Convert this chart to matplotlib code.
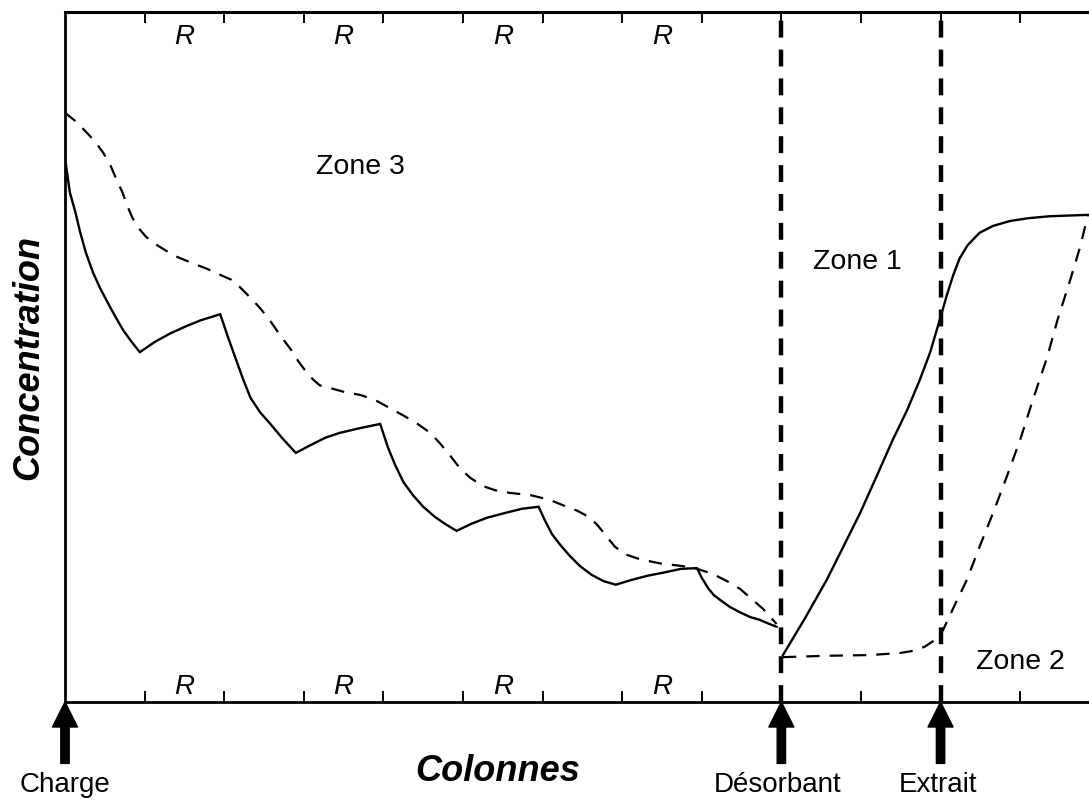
import matplotlib
matplotlib.use('Agg')
import matplotlib.pyplot as plt

plt.rcParams['font.family'] = ['Liberation Sans', 'DejaVu Sans']

# --- Zone 3 : profil continu (colonnes 0 -> 9) ---
solid_z3_x = [0.00, 0.03, 0.06, 0.13, 0.19, 0.26, 0.35, 0.44, 0.54, 0.64, 0.73, 0.83, 0.94,
              1.13, 1.32, 1.51, 1.70, 1.95,
              2.05, 2.14, 2.24, 2.33, 2.45, 2.58, 2.74, 2.90,
              3.08, 3.27, 3.45, 3.71, 3.96,
              4.06, 4.15, 4.25, 4.37, 4.50, 4.65, 4.79, 4.92,
              5.10, 5.30, 5.53, 5.74, 5.95,
              6.03, 6.12, 6.22, 6.34, 6.47, 6.62, 6.77, 6.92,
              7.12, 7.32, 7.54, 7.74, 7.94,
              8.00, 8.08, 8.15, 8.23, 8.35, 8.48, 8.61, 8.73, 8.83, 8.94]
solid_z3_y = [78.8, 76.4, 73.9, 71.0, 68.1, 65.2, 62.3, 60.0, 57.8, 55.7, 53.9, 52.3, 50.7,
              52.2, 53.4, 54.4, 55.3, 56.2,
              52.8, 49.9, 46.7, 44.1, 42.0, 40.3, 38.1, 36.1,
              37.2, 38.3, 39.0, 39.7, 40.3,
              36.8, 34.3, 31.9, 30.0, 28.3, 26.8, 25.7, 24.8,
              25.8, 26.7, 27.4, 28.0, 28.3,
              26.3, 24.3, 22.8, 21.2, 19.7, 18.4, 17.5, 17.0,
              17.7, 18.3, 18.8, 19.3, 19.4,
              18.0, 16.5, 15.5, 14.8, 13.8, 13.0, 12.3, 11.9, 11.4, 10.9]

# --- Zone 3 : profil pointille ---
dash_z3_x = [0.00, 0.13, 0.25, 0.38, 0.48, 0.57, 0.64, 0.72, 0.79, 0.85, 0.93, 1.02, 1.13,
             1.27, 1.41, 1.60, 1.78, 1.95, 2.09, 2.20, 2.32, 2.45, 2.58, 2.70, 2.83, 2.93,
             3.02, 3.12, 3.20, 3.33, 3.52, 3.71, 3.89, 4.08, 4.27, 4.43, 4.59, 4.71, 4.84,
             4.96, 5.09, 5.25, 5.40, 5.59, 5.84, 6.09, 6.28, 6.44, 6.60, 6.70, 6.81, 6.91,
             7.04, 7.22, 7.47, 7.76, 7.94, 8.13, 8.32, 8.48, 8.63, 8.77, 8.94]
dash_z3_y = [85.4, 84.2, 82.8, 81.2, 79.6, 77.8, 75.9, 73.9, 71.7, 70.1, 68.6, 67.4, 66.4,
             65.4, 64.5, 63.6, 62.8, 61.9, 61.2, 60.1, 58.7, 57.1, 55.2, 53.2, 51.2, 49.4,
             48.0, 46.7, 45.9, 45.5, 44.9, 44.5, 43.8, 42.6, 41.4, 40.3, 39.0, 37.5, 35.7,
             33.9, 32.5, 31.3, 30.7, 30.3, 30.0, 29.3, 28.4, 27.7, 26.7, 25.5, 23.9, 22.5,
             21.4, 20.7, 20.1, 19.7, 19.3, 18.6, 17.5, 16.4, 14.9, 13.5, 11.3]

# --- Zones 1 et 2 ---
solid_z12_x = [9.02, 9.30, 9.57, 9.77, 9.99, 10.20, 10.40, 10.58, 10.74, 10.87, 10.99,
               11.08, 11.16, 11.24, 11.34, 11.49, 11.66, 11.87, 12.09, 12.37, 12.85]
solid_z12_y = [6.8, 12.2, 17.7, 22.3, 27.4, 32.8, 38.0, 42.3, 46.7, 50.7, 55.4,
               59.0, 61.9, 64.3, 66.2, 68.0, 69.0, 69.7, 70.1, 70.4, 70.6]

dash_z12_x = [9.02, 9.57, 10.11, 10.49, 10.65, 10.80, 10.93, 11.03, 11.18, 11.33,
              11.49, 11.66, 11.83, 12.00, 12.16, 12.34, 12.47, 12.63, 12.76, 12.85]
dash_z12_y = [6.5, 6.7, 6.8, 7.1, 7.4, 8.0, 9.0, 10.4, 14.1, 17.7,
              22.5, 27.4, 32.6, 38.0, 43.8, 50.0, 55.4, 61.2, 66.2, 70.6]

# separations et graduations (en colonnes)
column_ticks = list(range(1, 13))
separators = [9, 11]
r_positions = [1.5, 3.5, 5.5, 7.5]

# injections / soutirages
inlets = [0, 9, 11]
inlet_labels = ['Charge', 'Désorbant', 'Extrait']
inlet_label_x = [0.0, 8.95, 10.97]

zone_labels = ['Zone 3', 'Zone 1', 'Zone 2']
zone_x = [3.71, 9.96, 12.0]
zone_y = [77.5, 63.8, 5.8]

# ============================================================================

fig = plt.figure(figsize=(10.89, 8.0), dpi=100)
ax = fig.add_axes([65 / 1089, 98 / 800, 1024 / 1089, 690 / 800])

ax.set_xlim(0, 12.865)
ax.set_ylim(0, 100)

ax.plot(solid_z3_x, solid_z3_y, color='black', lw=1.7, solid_joinstyle='miter')
ax.plot(dash_z3_x, dash_z3_y, color='black', lw=1.6, dashes=(6, 4.5))
ax.plot(solid_z12_x, solid_z12_y, color='black', lw=1.7, clip_on=False)
ax.plot(dash_z12_x, dash_z12_y, color='black', lw=1.6, dashes=(6, 4.5), clip_on=False)

for xs in separators:
    ax.axvline(xs, color='black', lw=3.2, dashes=(3.8, 2.7))

# axes : ticks en haut et en bas, vers l'interieur
ax.set_xticks(column_ticks)
ax.set_yticks([])
ax.tick_params(axis='x', which='both', direction='in', top=True, bottom=True,
               labelbottom=False, labeltop=False, length=8, width=1.4)
ax.spines['right'].set_visible(False)
for side in ['top', 'bottom', 'left']:
    ax.spines[side].set_linewidth(2.0)
ax.spines['top'].set_linewidth(2.2)

for xr in r_positions:
    ax.text(xr, 96.4, 'R', fontsize=20, style='italic', ha='center', va='center')
    ax.text(xr, 2.2, 'R', fontsize=20, style='italic', ha='center', va='center')

for label, zx, zy in zip(zone_labels, zone_x, zone_y):
    ax.text(zx, zy, label, fontsize=20.5, ha='center', va='center')

# fleches sous l'axe
for xi, label, lx in zip(inlets, inlet_labels, inlet_label_x):
    ax.annotate('', xy=(xi, 0), xytext=(xi, -8.9), annotation_clip=False,
                arrowprops=dict(arrowstyle='simple,head_length=1.2,head_width=1.2,tail_width=0.4',
                                mutation_scale=15, color='black',
                                shrinkA=0, shrinkB=0))
    ax.text(lx, -13.0, label, fontsize=20, ha='center', va='baseline', clip_on=False)

ax.text(5.44, -10.1, 'Colonnes', fontsize=26, fontweight='bold', style='italic',
        ha='center', va='center', clip_on=False)
ax.text(-0.46, 50, 'Concentration', fontsize=26, fontweight='bold', style='italic',
        rotation=90, ha='center', va='center', clip_on=False)

fig.savefig('out.png', dpi=100)
